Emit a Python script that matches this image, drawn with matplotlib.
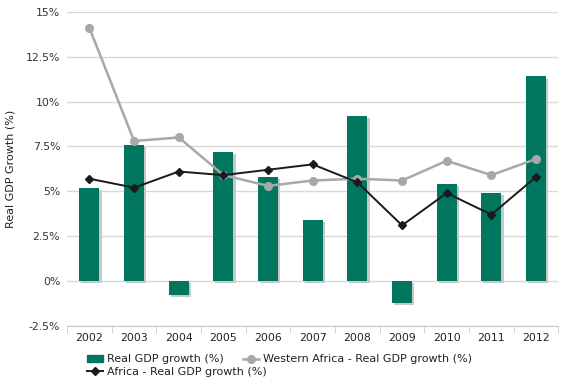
import matplotlib
matplotlib.use("Agg")
import matplotlib.pyplot as plt
import matplotlib.patheffects as pe
from matplotlib.lines import Line2D
from matplotlib.patches import Patch
import numpy as np

years = ["2002", "2003", "2004", "2005", "2006", "2007", "2008", "2009", "2010", "2011", "2012"]
real_gdp = [5.2, 7.6, -0.8, 7.2, 5.8, 3.4, 9.2, -1.2, 5.4, 4.9, 11.4]
western_africa = [14.1, 7.8, 8.0, 5.9, 5.3, 5.6, 5.7, 5.6, 6.7, 5.9, 6.8]
africa = [5.7, 5.2, 6.1, 5.9, 6.2, 6.5, 5.5, 3.1, 4.9, 3.7, 5.8]
yticks = [-2.5, 0, 2.5, 5, 7.5, 10, 12.5, 15]
ytick_labels = ["-2.5%", "0%", "2.5%", "5%", "7.5%", "10%", "12.5%", "15%"]

plt.rcParams['font.family'] = ['DejaVu Sans']
fig = plt.figure(figsize=(5.64, 3.82), dpi=100)
ax = fig.add_axes([0.119, 0.147, 0.871, 0.822])

x = np.arange(len(years))
green = "#00765f"
gray = "#a8a8a8"
black = "#1a1a1a"
ax.bar(x, real_gdp, width=0.45, color=green, zorder=3,
       path_effects=[pe.SimplePatchShadow(offset=(1.5, -1.5), shadow_rgbFace="#c8c8c8", alpha=1.0), pe.Normal()])
ax.plot(x, western_africa, color=gray, lw=1.8, marker="o", ms=5.5, zorder=4)
ax.plot(x, africa, color=black, lw=1.4, marker="D", ms=4, zorder=5)

ax.set_xlim(-0.5, len(years) - 0.5)
ax.set_ylim(-2.5, 15)
ax.set_yticks(yticks)
ax.set_yticklabels(ytick_labels, fontsize=7.8, color="#333333")
ax.set_xticks(x)
ax.set_xticklabels(years, fontsize=7.8, color="#222222")
ax.set_xticks(np.arange(-0.5, len(years) + 0.5, 1), minor=True)
ax.tick_params(axis="x", which="major", length=0, pad=5)
ax.tick_params(axis="x", which="minor", length=5, color="#cccccc")
ax.tick_params(axis="y", length=0, pad=5)
ax.yaxis.grid(True, color="#d8d8d8", lw=1, zorder=0)
for s in ["top", "right", "left"]:
    ax.spines[s].set_visible(False)
ax.spines["bottom"].set_color("#c8c8c8")
ax.set_ylabel("Real GDP Growth (%)", fontsize=8, color="#222222")
ax.yaxis.set_label_coords(-0.106, 0.5)

h_bar = Patch(facecolor=green, edgecolor=green, label="Real GDP growth (%)")
h_wa = Line2D([], [], color=gray, lw=1.8, marker="o", ms=5.5, label="Western Africa - Real GDP growth (%)")
h_af = Line2D([], [], color=black, lw=1.4, marker="D", ms=4, label="Africa - Real GDP growth (%)")
common = dict(frameon=False, fontsize=8, handlelength=1.4, handletextpad=0.4,
              borderaxespad=0, borderpad=0)
leg1 = fig.legend(handles=[h_bar, h_wa], loc="upper left", bbox_to_anchor=(0.155, 0.072), ncol=2,
                  columnspacing=1.7, **common)
leg2 = fig.legend(handles=[h_af], loc="upper left", bbox_to_anchor=(0.155, 0.040), **common)
for lg in (leg1, leg2):
    for t in lg.get_texts():
        t.set_color("#222222")

fig.savefig("out.png", dpi=100)
